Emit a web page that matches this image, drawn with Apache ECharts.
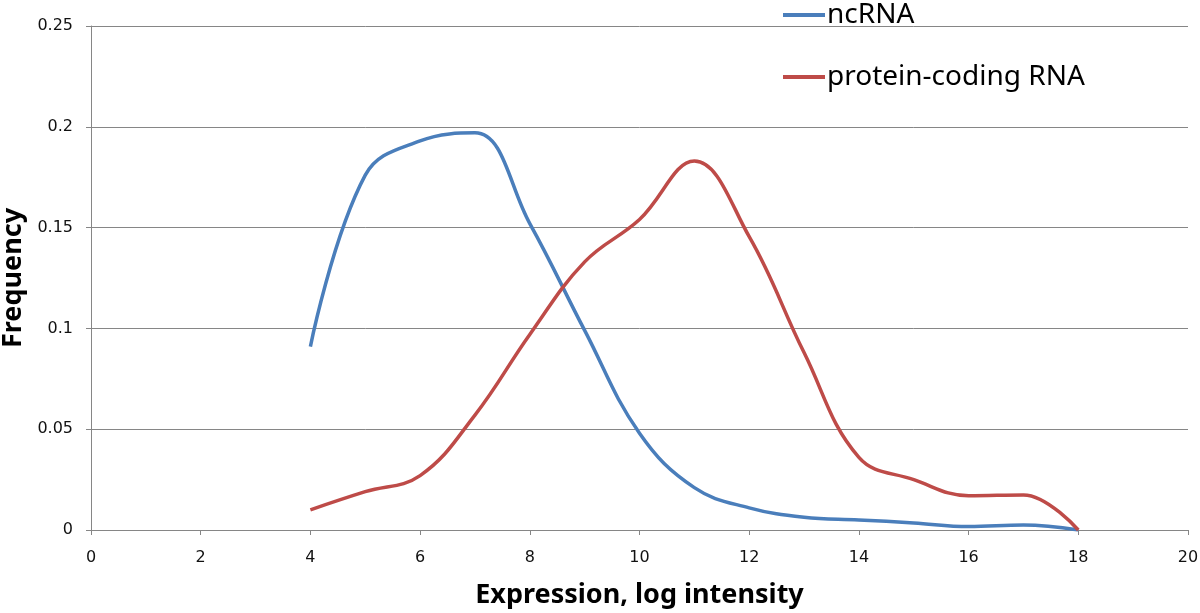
<!DOCTYPE html>
<html><head><meta charset="utf-8">
<script src="https://cdn.jsdelivr.net/npm/echarts@6/dist/echarts.min.js"></script>
<style>html,body{margin:0;padding:0;background:#fff}#c{width:1200px;height:613px}</style>
</head><body><div id="c"></div>
<script>
const xValues = [4,5,6,7,8,9,10,11,12,13,14,15,16,17,18];
const ncRNA = [0.091,0.176,0.193,0.197,0.152,0.099,0.048,0.021,0.011,0.0063,0.005,0.0035,0.0017,0.0025,0.0];
const proteinCoding = [0.010,0.019,0.027,0.057,0.097,0.133,0.154,0.183,0.1455,0.088,0.036,0.025,0.017,0.0174,0.0];
const seriesNames = ['ncRNA','protein-coding RNA'];
const xTicks = {min:0,max:20,interval:2};
const yTicks = {min:0,max:0.25,interval:0.05};

const pair = (xs, ys) => xs.map((x,i)=>[x, ys[i]]);
const chart = echarts.init(document.getElementById('c'));
chart.setOption({
  animation:false,
  grid:{left:91,right:12,top:26,bottom:83,containLabel:false,outerBoundsMode:'none'},
  legend:{
    orient:'vertical', left:778, top:-4, itemGap:34,
    icon:'rect', itemWidth:42, itemHeight:4,
    textStyle:{fontFamily:'Noto Sans', fontSize:28, color:'#000', padding:[0,0,0,-3]},
    data:seriesNames
  },
  xAxis:{
    type:'value', min:xTicks.min, max:xTicks.max, interval:xTicks.interval,
    name:'Expression, log intensity', nameLocation:'middle', nameGap:52,
    nameTextStyle:{fontFamily:'Noto Sans', fontWeight:'bold', fontSize:27, color:'#000'},
    axisLine:{show:true, lineStyle:{color:'#868686', width:1}},
    axisTick:{show:true, length:5, lineStyle:{color:'#868686'}},
    axisLabel:{fontFamily:'DejaVu Sans', fontSize:16, color:'#111', margin:20},
    splitLine:{show:false}
  },
  yAxis:{
    type:'value', min:yTicks.min, max:yTicks.max, interval:yTicks.interval,
    name:'Frequency', nameLocation:'middle', nameGap:62,
    nameTextStyle:{fontFamily:'Noto Sans', fontWeight:'bold', fontSize:27, color:'#000'},
    axisLine:{show:true, lineStyle:{color:'#868686', width:1}},
    axisTick:{show:true, length:5, lineStyle:{color:'#868686'}},
    axisLabel:{fontFamily:'DejaVu Sans', fontSize:16, color:'#111', margin:18,
      formatter:v=>String(+v.toFixed(2))},
    splitLine:{show:true, lineStyle:{color:'#868686', width:1}}
  },
  series:[
    {name:seriesNames[0], type:'line', smooth:0.4, showSymbol:false,
     data:pair(xValues,ncRNA), lineStyle:{color:'#4A7EBB', width:3.5}, itemStyle:{color:'#4A7EBB'}},
    {name:seriesNames[1], type:'line', smooth:0.4, showSymbol:false,
     data:pair(xValues,proteinCoding), lineStyle:{color:'#BE4B48', width:3.5}, itemStyle:{color:'#BE4B48'}}
  ]
});
</script></body></html>
